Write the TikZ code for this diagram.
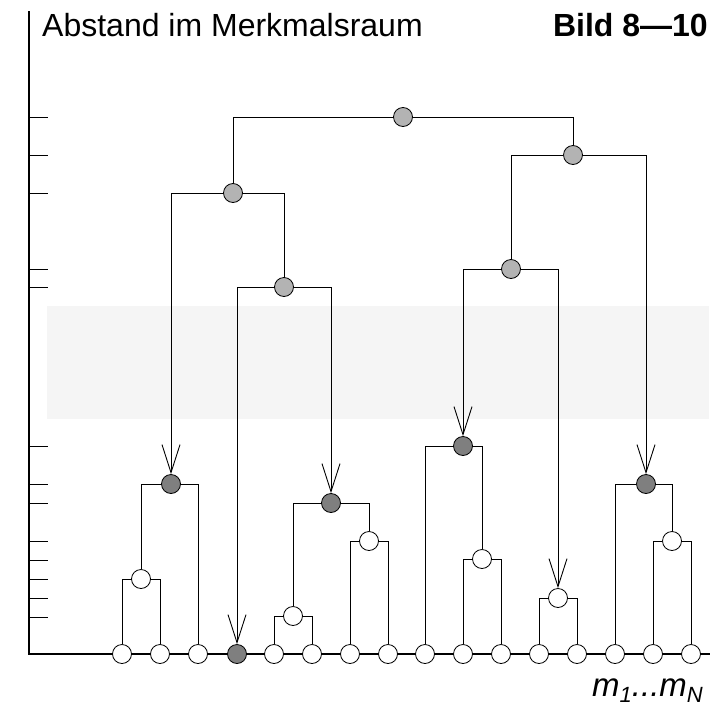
\documentclass[tikz,border=0pt]{standalone}
\usepackage{fontspec}
\setmainfont{Liberation Sans}
\usetikzlibrary{arrows.meta}
\definecolor{bandgray}{HTML}{F5F5F5}
\definecolor{nodegray}{HTML}{B3B3B3}
\definecolor{nodedark}{HTML}{7F7F7F}
\newcommand{\lowsub}[1]{\raisebox{-6pt}{\fontsize{22}{26}\selectfont #1}}
\tikzset{
  nd/.style={circle,draw=black,line width=0.8pt,minimum size=19pt,inner sep=0pt},
  wnode/.style={nd,fill=white},
  gnode/.style={nd,fill=nodegray},
  dnode/.style={nd,fill=nodedark},
  conn/.style={draw=black,line width=0.9pt},
  arr/.style={conn,-{Straight Barb[length=28pt,width=18pt]}},
  axisline/.style={draw=black,line width=2.8pt},
  tick/.style={draw=black,line width=1pt},
  lbl/.style={inner sep=0pt,font=\fontsize{32}{38}\selectfont}
}
\begin{document}
\begin{tikzpicture}[x=1pt,y=-1pt]
\useasboundingbox (0,0) rectangle (720,707);
% band
\fill[bandgray] (47,306) rectangle (709,419);
% axes
\draw[axisline] (29,11) -- (29,654) -- (710,654);
\foreach \yy in {117,155,193,269,287,446,484,503,541,560,579,598,617}
  \draw[tick] (29,\yy) -- (48,\yy);
% labels
\node[lbl,anchor=base west] (title) at (42,36) {Abstand im Merkmalsraum};
\node[lbl,anchor=base east,font=\fontsize{32}{38}\selectfont\bfseries] (fig) at (708,36) {Bild 8—10};
\node[lbl,anchor=base east,font=\fontsize{33}{38}\selectfont\itshape] (xlab) at (703,696) {m\lowsub{1}...m\lowsub{N}};
% leaves
\node[wnode] (l1) at (122,654) {};
\node[wnode] (l2) at (160,654) {};
\node[wnode] (l3) at (198,654) {};
\node[dnode] (l4) at (237,654) {};
\node[wnode] (l5) at (274,654) {};
\node[wnode] (l6) at (312,654) {};
\node[wnode] (l7) at (350,654) {};
\node[wnode] (l8) at (388,654) {};
\node[wnode] (l9) at (425,654) {};
\node[wnode] (l10) at (463,654) {};
\node[wnode] (l11) at (501,654) {};
\node[wnode] (l12) at (539,654) {};
\node[wnode] (l13) at (577,654) {};
\node[wnode] (l14) at (615,654) {};
\node[wnode] (l15) at (653,654) {};
\node[wnode] (l16) at (691,654) {};
% internal nodes
\node[wnode] (A) at (141,579) {};
\node[dnode] (B) at (171,484) {};
\node[wnode] (C) at (293,616) {};
\node[wnode] (D) at (369,541) {};
\node[dnode] (E) at (331,503) {};
\node[wnode] (F) at (482,559) {};
\node[dnode] (G) at (463,446) {};
\node[wnode] (H) at (558,598) {};
\node[wnode] (I) at (672,541) {};
\node[dnode] (J) at (646,484) {};
\node[gnode] (K) at (284,287) {};
\node[gnode] (L) at (233,193) {};
\node[gnode] (M) at (511,269) {};
\node[gnode] (N) at (573,155) {};
\node[gnode] (O) at (403,117) {};
% connectors
\draw[conn] (A) -| (l1);
\draw[conn] (A) -| (l2);
\draw[conn] (B) -| (A);
\draw[conn] (B) -| (l3);
\draw[conn] (C) -| (l5);
\draw[conn] (C) -| (l6);
\draw[conn] (D) -| (l7);
\draw[conn] (D) -| (l8);
\draw[conn] (E) -| (C);
\draw[conn] (E) -| (D);
\draw[conn] (F) -| (l10);
\draw[conn] (F) -| (l11);
\draw[conn] (G) -| (l9);
\draw[conn] (G) -| (F);
\draw[conn] (H) -| (l12);
\draw[conn] (H) -| (l13);
\draw[conn] (I) -| (l15);
\draw[conn] (I) -| (l16);
\draw[conn] (J) -| (l14);
\draw[conn] (J) -| (I);
\draw[arr] (K) -| (l4);
\draw[arr] (K) -| (E);
\draw[arr] (L) -| (B);
\draw[conn] (L) -| (K);
\draw[arr] (M) -| (G);
\draw[arr] (M) -| (H);
\draw[conn] (N) -| (M);
\draw[arr] (N) -| (J);
\draw[conn] (O) -| (L);
\draw[conn] (O) -| (N);
\end{tikzpicture}
\end{document}
